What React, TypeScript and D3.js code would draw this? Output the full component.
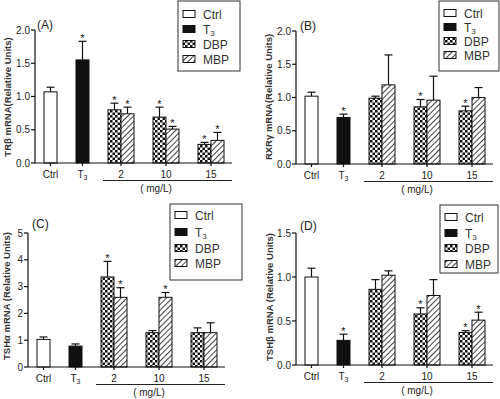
import React from "react";
import * as d3 from "d3";

// ---- data ----
const xCategories = ["Ctrl", "T3", "2", "10", "15"];
const seriesNames = ["Ctrl", "T3", "DBP", "MBP"];
// bar order: Ctrl, T3, DBP2, MBP2, DBP10, MBP10, DBP15, MBP15
const barSeries = ["Ctrl", "T3", "DBP", "MBP", "DBP", "MBP", "DBP", "MBP"];
const barGroup = [0, 1, 2, 2, 3, 3, 4, 4];

const trbMean = [1.07, 1.55, 0.8, 0.74, 0.69, 0.51, 0.28, 0.34];
const trbSem = [0.07, 0.28, 0.1, 0.1, 0.15, 0.04, 0.03, 0.12];
const trbSig = [0, 1, 1, 1, 1, 1, 1, 1];

const rxrMean = [1.02, 0.7, 0.99, 1.19, 0.86, 0.96, 0.8, 1.0];
const rxrSem = [0.06, 0.05, 0.03, 0.45, 0.11, 0.36, 0.07, 0.15];
const rxrSig = [0, 1, 0, 0, 1, 0, 1, 0];

const tshaMean = [1.03, 0.78, 3.36, 2.6, 1.28, 2.6, 1.28, 1.28];
const tshaSem = [0.09, 0.08, 0.58, 0.36, 0.08, 0.18, 0.18, 0.37];
const tshaSig = [0, 0, 1, 1, 0, 1, 0, 0];

const tshbMean = [1.0, 0.28, 0.86, 1.02, 0.58, 0.79, 0.37, 0.51];
const tshbSem = [0.1, 0.07, 0.11, 0.05, 0.07, 0.18, 0.02, 0.09];
const tshbSig = [0, 1, 0, 0, 1, 0, 1, 1];

const ticks2 = [0, 0.5, 1.0, 1.5, 2.0];
const ticks5 = [0, 1, 2, 3, 4, 5];
const ticks15 = [0, 0.5, 1.0, 1.5];

const FONT = "'Liberation Sans', Arial, Helvetica, sans-serif";

// layout units along x axis: pad 9, bar 13, gap 19, pad 8
const barStarts = [9, 41, 73, 86, 118, 131, 163, 176];
const BAR_W = 13;
const X_UNITS = 197;

type PanelCfg = {
  id: string;
  label: string;
  yTitle: string;
  mean: number[];
  sem: number[];
  sig: number[];
  yMax: number;
  ticks: number[];
  fmt: string;
  x0: number;
  yTop: number;
  yBot: number;
  titleX: number;
  titleY: number;
  labelX: number;
  labelY: number;
  legend: { x0: number; y0: number; x1: number; y1: number; rows: number[] };
};

const panels: PanelCfg[] = [
  {
    id: "A", label: "(A)", yTitle: "TRβ  mRNA(Relative Units)",
    mean: trbMean, sem: trbSem, sig: trbSig, yMax: 2, ticks: ticks2, fmt: ".1f",
    x0: 35, yTop: 30, yBot: 163, titleX: 11, titleY: 97, labelX: 37, labelY: 29,
    legend: { x0: 178, y0: 1, x1: 240, y1: 71, rows: [14, 29, 44, 59] },
  },
  {
    id: "B", label: "(B)", yTitle: "RXRγ  mRNA(Relative Units)",
    mean: rxrMean, sem: rxrSem, sig: rxrSig, yMax: 2, ticks: ticks2, fmt: ".1f",
    x0: 296, yTop: 31, yBot: 164, titleX: 272, titleY: 97, labelX: 300, labelY: 30,
    legend: { x0: 439, y0: 1, x1: 499, y1: 71, rows: [13, 27, 41, 55] },
  },
  {
    id: "C", label: "(C)", yTitle: "TSHα  mRNA (Relative Units)",
    mean: tshaMean, sem: tshaSem, sig: tshaSig, yMax: 5, ticks: ticks5, fmt: "d",
    x0: 28, yTop: 233, yBot: 367, titleX: 10, titleY: 296, labelX: 32, labelY: 228,
    legend: { x0: 170, y0: 204, x1: 242, y1: 280, rows: [215, 232, 248, 263] },
  },
  {
    id: "D", label: "(D)", yTitle: "TSHβ  mRNA (Relative Units)",
    mean: tshbMean, sem: tshbSem, sig: tshbSig, yMax: 1.5, ticks: ticks15, fmt: ".1f",
    x0: 296, yTop: 233, yBot: 365, titleX: 273, titleY: 297, labelX: 300, labelY: 230,
    legend: { x0: 440, y0: 205, x1: 498, y1: 273, rows: [217, 233, 248, 264] },
  },
];

function fillFor(s: string) {
  if (s === "Ctrl") return "#ffffff";
  if (s === "T3") return "#111111";
  if (s === "DBP") return "url(#checker)";
  return "url(#hatch)";
}

function CatLabel({ name, x, y }: { name: string; x: number; y: number }) {
  if (name === "T3") {
    return (
      <text x={x} y={y} textAnchor="middle" fontSize={10} fill="#222" fontFamily={FONT}>
        T<tspan fontSize={7} dy={2}>3</tspan>
      </text>
    );
  }
  return (
    <text x={x} y={y} textAnchor="middle" fontSize={10} fill="#222" fontFamily={FONT}>
      {name}
    </text>
  );
}

function Panel({ p }: { p: PanelCfg }) {
  const x = d3.scaleLinear().domain([0, X_UNITS]).range([p.x0, p.x0 + X_UNITS]);
  const y = d3.scaleLinear().domain([0, p.yMax]).range([p.yBot, p.yTop]);
  const fmt = d3.format(p.fmt);
  const x1 = x(X_UNITS);

  const centers = xCategories.map((_, gi) => {
    const idx = barGroup.map((g, i) => (g === gi ? i : -1)).filter((i) => i >= 0);
    const a = x(barStarts[idx[0]]);
    const b = x(barStarts[idx[idx.length - 1]] + BAR_W);
    return (a + b) / 2;
  });
  const ulStart = x(barStarts[2]) - 5;

  return (
    <g>
      {p.mean.map((m, i) => {
        const bx = x(barStarts[i]);
        const bw = x(barStarts[i] + BAR_W) - bx;
        const top = y(m);
        const cap = y(m + p.sem[i]);
        const cx = bx + bw / 2;
        return (
          <g key={i}>
            <rect x={bx} y={top} width={bw} height={p.yBot - top} fill={fillFor(barSeries[i])}
              stroke="#111" strokeWidth={1} />
            <line x1={cx} x2={cx} y1={top} y2={cap} stroke="#111" strokeWidth={1.2} />
            <line x1={cx - 4} x2={cx + 4} y1={cap} y2={cap} stroke="#111" strokeWidth={1.2} />
            {p.sig[i] ? (
              <text x={cx} y={cap + 0.5} textAnchor="middle" fontSize={11} fill="#111" fontFamily={FONT}>*</text>
            ) : null}
          </g>
        );
      })}
      <line x1={p.x0} x2={p.x0} y1={p.yBot} y2={p.yTop} stroke="#111" strokeWidth={1.2} />
      {p.ticks.map((t) => (
        <g key={t}>
          <line x1={p.x0 - 4} x2={p.x0} y1={y(t)} y2={y(t)} stroke="#111" strokeWidth={1.2} />
          <text x={p.x0 - 5} y={y(t) + 3.5} textAnchor="end" fontSize={10} fill="#222" fontFamily={FONT}>
            {fmt(t)}
          </text>
        </g>
      ))}
      <line x1={p.x0} x2={x1} y1={p.yBot} y2={p.yBot} stroke="#111" strokeWidth={1.2} />
      {centers.map((c, i) => (
        <g key={i}>
          <line x1={c} x2={c} y1={p.yBot} y2={p.yBot + 3} stroke="#111" strokeWidth={1.2} />
          <CatLabel name={xCategories[i]} x={c} y={p.yBot + 15} />
        </g>
      ))}
      <line x1={ulStart} x2={x1} y1={p.yBot + 17.5} y2={p.yBot + 17.5} stroke="#222" strokeWidth={1} />
      <text x={ulStart + 53} y={p.yBot + 28.5} textAnchor="middle" fontSize={10} fill="#222" fontFamily={FONT}>
        ( mg/L)
      </text>
      <text transform={`translate(${p.titleX},${p.titleY}) rotate(-90)`} textAnchor="middle" fontSize={9.5}
        fontWeight="bold" fill="#333" fontFamily={FONT}>
        {p.yTitle}
      </text>
      <text x={p.labelX} y={p.labelY} fontSize={12} fill="#222" fontFamily={FONT}>{p.label}</text>
      <rect x={p.legend.x0} y={p.legend.y0} width={p.legend.x1 - p.legend.x0} height={p.legend.y1 - p.legend.y0}
        fill="#fff" stroke="#333" strokeWidth={1} />
      {seriesNames.map((s, i) => {
        const ry = p.legend.rows[i];
        const sx = p.legend.x0 + 5;
        return (
          <g key={s}>
            <rect x={sx} y={ry - 3.5} width={12} height={7} fill={fillFor(s)} stroke="#111" strokeWidth={1} />
            {s === "T3" ? (
              <text x={sx + 20} y={ry + 4.5} fontSize={12} fill="#333" fontFamily={FONT}>
                T<tspan fontSize={8} dy={2}>3</tspan>
              </text>
            ) : (
              <text x={sx + 20} y={ry + 4.5} fontSize={12} fill="#333" fontFamily={FONT}>{s}</text>
            )}
          </g>
        );
      })}
    </g>
  );
}

export default function App() {
  return (
    <svg width={500} height={399} style={{ position: "absolute", left: 0, top: 0, background: "#fff" }}>
      <defs>
        <pattern id="checker" width={5} height={5} patternUnits="userSpaceOnUse">
          <rect width={5} height={5} fill="#fff" />
          <rect width={2.5} height={2.5} fill="#111" />
          <rect x={2.5} y={2.5} width={2.5} height={2.5} fill="#111" />
        </pattern>
        <pattern id="hatch" width={4} height={4} patternUnits="userSpaceOnUse" patternTransform="rotate(45)">
          <rect width={4} height={4} fill="#fff" />
          <line x1={0} y1={0} x2={0} y2={4} stroke="#111" strokeWidth={1.6} />
        </pattern>
      </defs>
      <rect width={500} height={399} fill="#fff" />
      {panels.map((p) => (
        <Panel key={p.id} p={p} />
      ))}
    </svg>
  );
}
